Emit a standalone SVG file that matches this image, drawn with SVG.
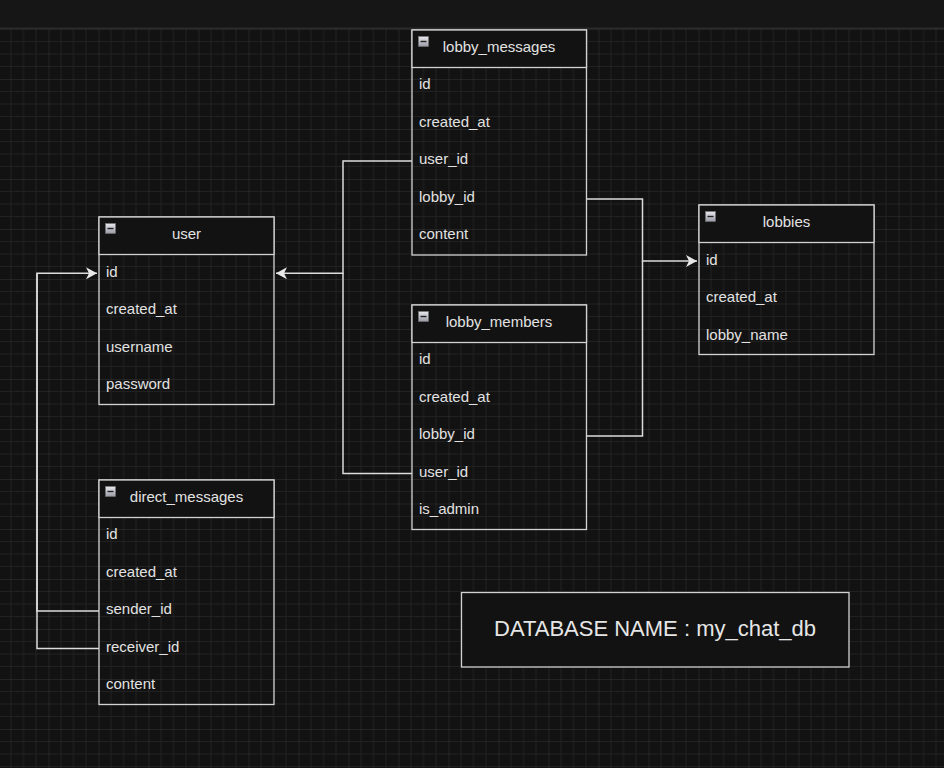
<svg xmlns="http://www.w3.org/2000/svg" width="944" height="768" viewBox="0 0 944 768">
<style>
.box{fill:none;stroke:#d2d2d2;stroke-width:1.3}
.hdr{fill:#121212;stroke:#d2d2d2;stroke-width:1.3}
.t{font-family:"Liberation Sans",Arial,sans-serif;font-size:15px;fill:#e2e2e2}
.title{font-family:"Liberation Sans",Arial,sans-serif;font-size:15px;fill:#e2e2e2;text-anchor:middle}
.edge{fill:none;stroke:#dcdcdc;stroke-width:1.5}
</style>
<defs>
<pattern id="grid" patternUnits="userSpaceOnUse" x="-1.5" y="29" width="50" height="50">
<rect width="50" height="50" fill="#121212"/>
<path d="M12.5 0V50M25 0V50M37.5 0V50M0 12.5H50M0 25H50M0 37.5H50" stroke="#212121" stroke-width="1"/>
<path d="M0 0V50M0 0H50" stroke="#363636" stroke-width="1"/>
</pattern>
<linearGradient id="ig" x1="0" y1="0" x2="0" y2="1">
<stop offset="0" stop-color="#e8e8ee"/>
<stop offset="1" stop-color="#9a9aa6"/>
</linearGradient>
<g id="icon">
<rect x="0" y="0" width="10" height="10" fill="url(#ig)" stroke="#777" stroke-width="0.6"/>
<rect x="2" y="4.3" width="6" height="1.4" fill="#222"/>
</g>
<marker id="arr" viewBox="0 0 12 12" refX="11" refY="6" markerWidth="12" markerHeight="12" markerUnits="userSpaceOnUse" orient="auto">
<path d="M0 0L11 6L0 12L3 6Z" fill="#e8e8e8"/>
</marker>
</defs>
<rect width="944" height="768" fill="url(#grid)"/>
<rect width="944" height="28" fill="#161616"/>
<rect y="27.5" width="944" height="1.5" fill="#2a2a2a"/>

<g id="connectors">
<path class="edge" d="M412 161H343V273.3H276" marker-end="url(#arr)"/>
<path class="edge" d="M412 473.5H343V273.3"/>
<path class="edge" d="M586.5 199H642.5V261H697" marker-end="url(#arr)"/>
<path class="edge" d="M586.5 436H642.5V261"/>
<path class="edge" d="M99 611H37V273.3H97" marker-end="url(#arr)"/>
<path class="edge" d="M99 648.5H37V273.3"/>
</g>

<g id="lobby_messages">
<rect class="box" x="412" y="30" width="174.5" height="225"/>
<rect class="hdr" x="412" y="30" width="174.5" height="37.5"/>
<use href="#icon" x="418.5" y="36.5"/>
<text class="title" x="499" y="52">lobby_messages</text>
<text class="t" x="419" y="89">id</text>
<text class="t" x="419" y="127">created_at</text>
<text class="t" x="419" y="164">user_id</text>
<text class="t" x="419" y="202">lobby_id</text>
<text class="t" x="419" y="239">content</text>
</g>

<g id="user">
<rect class="box" x="99" y="217" width="175" height="187.5"/>
<rect class="hdr" x="99" y="217" width="175" height="37.5"/>
<use href="#icon" x="105.5" y="223.5"/>
<text class="title" x="186.5" y="239">user</text>
<text class="t" x="106" y="276.5">id</text>
<text class="t" x="106" y="314">created_at</text>
<text class="t" x="106" y="351.5">username</text>
<text class="t" x="106" y="389">password</text>
</g>

<g id="lobbies">
<rect class="box" x="699" y="205" width="175" height="149.5"/>
<rect class="hdr" x="699" y="205" width="175" height="37.5"/>
<use href="#icon" x="705.5" y="211.5"/>
<text class="title" x="786.5" y="227">lobbies</text>
<text class="t" x="706" y="264.5">id</text>
<text class="t" x="706" y="302">created_at</text>
<text class="t" x="706" y="339.5">lobby_name</text>
</g>

<g id="lobby_members">
<rect class="box" x="412" y="305" width="174.5" height="224.5"/>
<rect class="hdr" x="412" y="305" width="174.5" height="37.5"/>
<use href="#icon" x="418.5" y="311.5"/>
<text class="title" x="499" y="327">lobby_members</text>
<text class="t" x="419" y="364">id</text>
<text class="t" x="419" y="402">created_at</text>
<text class="t" x="419" y="439">lobby_id</text>
<text class="t" x="419" y="477">user_id</text>
<text class="t" x="419" y="514">is_admin</text>
</g>

<g id="direct_messages">
<rect class="box" x="99" y="480" width="175" height="224.5"/>
<rect class="hdr" x="99" y="480" width="175" height="37.5"/>
<use href="#icon" x="105.5" y="486.5"/>
<text class="title" x="186.5" y="502">direct_messages</text>
<text class="t" x="106" y="539">id</text>
<text class="t" x="106" y="577">created_at</text>
<text class="t" x="106" y="614">sender_id</text>
<text class="t" x="106" y="652">receiver_id</text>
<text class="t" x="106" y="689">content</text>
</g>

<g id="database_name">
<rect x="461.5" y="592.5" width="387.5" height="74.5" fill="#121212" stroke="#d2d2d2" stroke-width="1.3"/>
<text x="655" y="635.5" font-family="Liberation Sans, Arial, sans-serif" font-size="22" fill="#e6e6e6" text-anchor="middle">DATABASE NAME : my_chat_db</text>
</g>
</svg>
